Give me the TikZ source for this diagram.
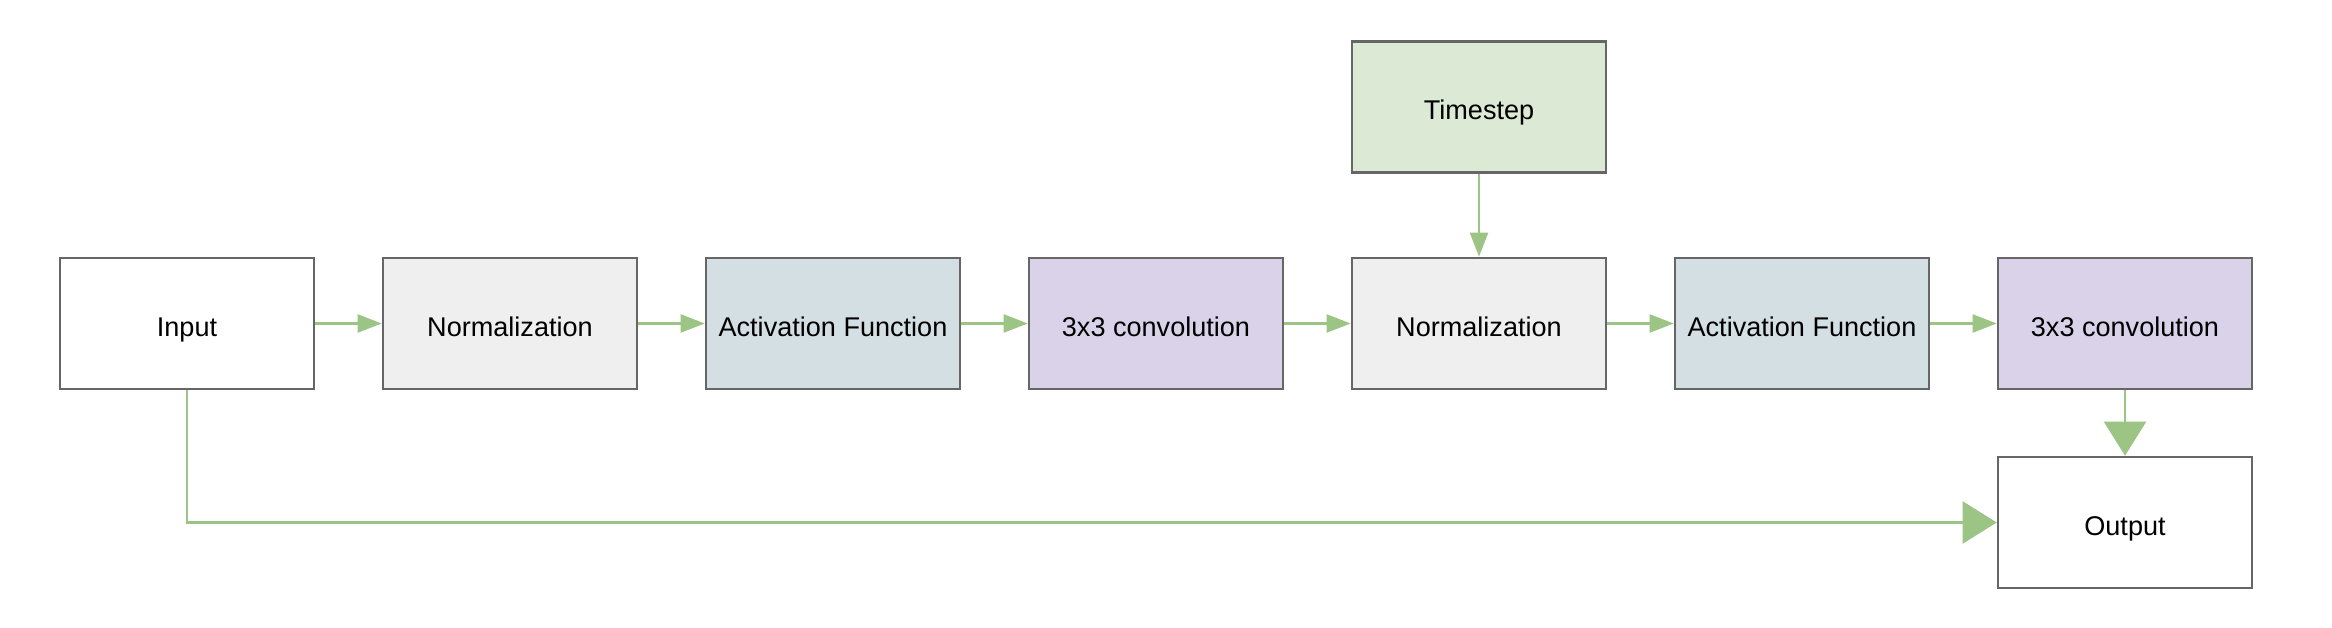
\documentclass[tikz,border=0pt]{standalone}
\usepackage{fontspec}
\setmainfont{Liberation Sans}
\usetikzlibrary{arrows.meta}
\definecolor{boxline}{HTML}{666666}
\definecolor{arrowgreen}{HTML}{9BC485}
\definecolor{normfill}{HTML}{EFEFEF}
\definecolor{actfill}{HTML}{D3DFE3}
\definecolor{convfill}{HTML}{D9D2E9}
\definecolor{timefill}{HTML}{DCE9D5}
\tikzset{
  block/.style={draw=boxline,line width=0.7pt,minimum width=2.54cm,minimum height=1.31cm,
    inner sep=0pt,text height=0.716em,text depth=0pt,font=\fontsize{7.7}{9}\selectfont},
  link/.style={draw=arrowgreen,line width=0.6pt,-{Triangle[length=0.24cm,width=0.18cm]}},
  biglink/.style={draw=arrowgreen,line width=0.6pt,-{Triangle[length=0.34cm,width=0.42cm]}}
}
\begin{document}
\begin{tikzpicture}[x=0.01cm,y=-0.01cm]
    \useasboundingbox (0,0) rectangle (2332,628);
    % main row
    \node[block,fill=white] (input) at (187,323.5) {Input};
    \node[block,fill=normfill] (norma) at (510,323.5) {Normalization};
    \node[block,fill=actfill] (acta) at (833,323.5) {Activation Function};
    \node[block,fill=convfill] (conva) at (1156,323.5) {3x3 convolution};
    \node[block,fill=normfill] (normb) at (1479,323.5) {Normalization};
    \node[block,fill=actfill] (actb) at (1802,323.5) {Activation Function};
    \node[block,fill=convfill] (convb) at (2125,323.5) {3x3 convolution};
    % timestep and output
    \node[block,fill=timefill] (time) at (1479,107) {Timestep};
    \node[block,fill=white] (output) at (2125,522.5) {Output};
    % connectors
    \draw[link] (input) -- (norma);
    \draw[link] (norma) -- (acta);
    \draw[link] (acta) -- (conva);
    \draw[link] (conva) -- (normb);
    \draw[link] (normb) -- (actb);
    \draw[link] (actb) -- (convb);
    \draw[link] (time) -- (normb);
    \draw[biglink] (convb) -- (output);
    \draw[biglink] (input.south) |- (output.west);
\end{tikzpicture}
\end{document}
